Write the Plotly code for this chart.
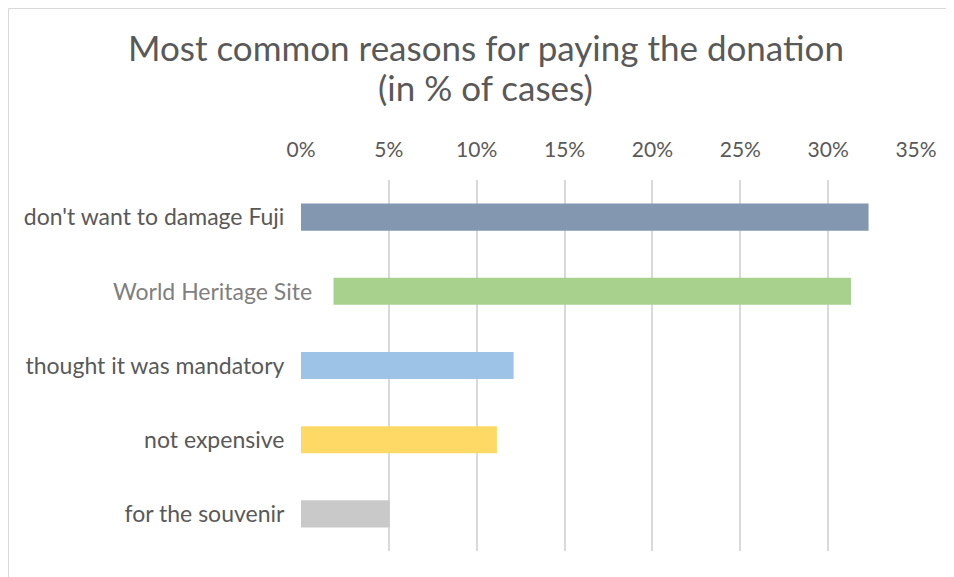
import plotly.graph_objects as go

categories = ["don't want to damage Fuji", "World Heritage Site", "thought it was mandatory",
              "not expensive", "for the souvenir"]
values = [32.3, 31.3, 12.1, 11.15, 5.05]
colors = ["#8497b0", "#a9d18e", "#9dc3e6", "#ffd966", "#c9c9c9"]
tick_vals = [0, 5, 10, 15, 20, 25, 30, 35]
title_line1 = "Most common reasons for paying the donation"
title_line2 = "(in % of cases)"

# the page adds an 8px body margin; figure coordinates are page coordinates - 8
OFF = 8
W, H = 954 - OFF, 577 - OFF
L, R, T, B = 301 - OFF, 38, 180 - OFF, 26
pw, ph = W - L - R, H - T - B

def px_x(px):  # page px -> paper x
    return (px - OFF - L) / pw

def px_y(py):  # page px -> paper y
    return (H - B - (py - OFF)) / ph

ticktext = [c if c != "World Heritage Site" else "" for c in categories]

fig = go.Figure(go.Bar(
    y=categories, x=values, orientation="h",
    marker=dict(color=colors, line=dict(width=0)),
    width=0.365,
))

fig.update_layout(
    width=W, height=H,
    margin=dict(l=L, r=R, t=T, b=B),
    paper_bgcolor="white", plot_bgcolor="white",
    font=dict(family="Lato", color="#595959", size=20),
    showlegend=False,
    xaxis=dict(side="top", range=[0, 35], tickvals=tick_vals,
               ticktext=[f"{v}%" for v in tick_vals],
               showgrid=True, gridcolor="#d9d9d9", gridwidth=1.5,
               zeroline=False, showline=False,
               ticks="outside", ticklen=14, tickcolor="rgba(0,0,0,0)",
               tickfont=dict(size=21, color="#595959"), fixedrange=True),
    yaxis=dict(categoryorder="array", categoryarray=categories, autorange="reversed",
               tickvals=categories, ticktext=ticktext,
               showgrid=False, zeroline=False, showline=False,
               ticks="outside", ticklen=11, tickcolor="rgba(0,0,0,0)",
               tickfont=dict(size=23, color="#595959"), fixedrange=True),
    bargap=0.635,
)

# title (two lines)
fig.add_annotation(text=title_line1, xref="paper", yref="paper",
                   x=px_x(485.5), y=px_y(47), xanchor="center", yanchor="middle",
                   showarrow=False, font=dict(family="Lato", size=35, color="#595959"))
fig.add_annotation(text=title_line2, xref="paper", yref="paper",
                   x=px_x(485.5), y=px_y(87), xanchor="center", yanchor="middle",
                   showarrow=False, font=dict(family="Lato", size=35, color="#595959"))

# white label box over the start of the World Heritage Site bar
fig.add_shape(type="rect", xref="paper", yref="paper",
              x0=px_x(290), x1=px_x(333.5), y0=px_y(321), y1=px_y(265),
              fillcolor="white", line=dict(width=0), layer="above")
fig.add_annotation(text="World Heritage Site", xref="paper", yref="y",
                   x=px_x(314), y="World Heritage Site", xanchor="right", yanchor="middle",
                   showarrow=False, font=dict(family="Lato", size=23, color="#7f7f7f"))

# chart border (top and left visible)
fig.add_shape(type="rect", xref="paper", yref="paper",
              x0=px_x(8.5), x1=px_x(1100), y0=px_y(700), y1=px_y(8.5),
              fillcolor="rgba(0,0,0,0)", line=dict(color="#d9d9d9", width=1), layer="below")

fig.write_html("out.html")
